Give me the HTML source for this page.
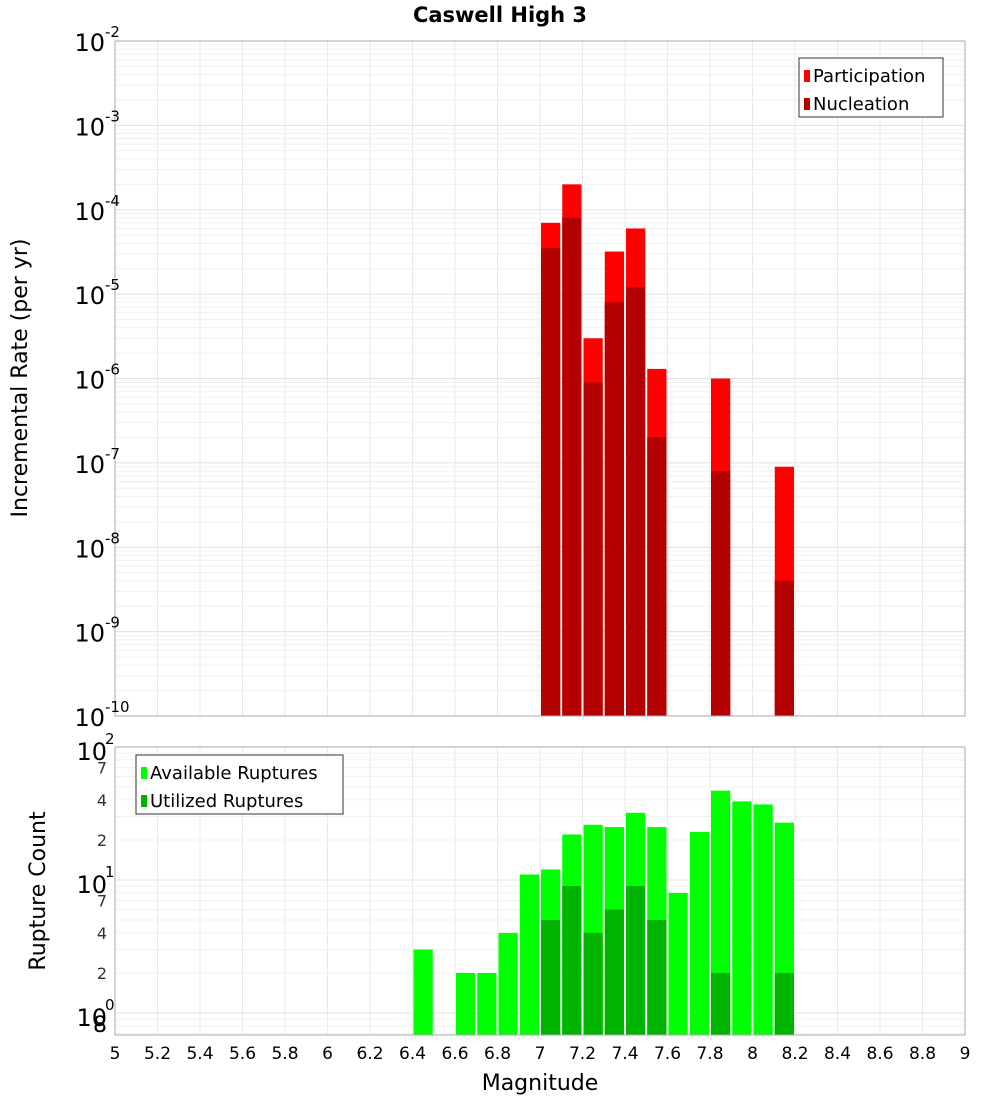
<!DOCTYPE html>
<html><head><meta charset="utf-8"><style>body{margin:0;background:#fff}svg{display:block;font-family:"DejaVu Sans","Liberation Sans",sans-serif}</style></head>
<body>
<svg id="c" width="1000" height="1100"></svg>
<script>
const bins=[7.05,7.15,7.25,7.35,7.45,7.55,7.85,8.15];
const participation=[7e-5,2e-4,3e-6,3.2e-5,6e-5,1.3e-6,1e-6,9e-8];
const nucleation=[3.5e-5,8e-5,9e-7,8e-6,1.2e-5,2e-7,8e-8,4e-9];
const countBins=[6.45,6.65,6.75,6.85,6.95,7.05,7.15,7.25,7.35,7.45,7.55,7.65,7.75,7.85,7.95,8.05,8.15];
const available=[3,2,2,4,11,12,22,26,25,32,25,8,23,47,39,37,27];
const utilBins=[7.05,7.15,7.25,7.35,7.45,7.55,7.85,8.15];
const utilized=[5,9,4,6,9,5,2,2];
const xTicks=[5,5.2,5.4,5.6,5.8,6,6.2,6.4,6.6,6.8,7,7.2,7.4,7.6,7.8,8,8.2,8.4,8.6,8.8,9];
const topDecades=[-10,-9,-8,-7,-6,-5,-4,-3,-2];
const botMinor=[{v:70,t:"7"},{v:40,t:"4"},{v:20,t:"2"},{v:7,t:"7"},{v:4,t:"4"},{v:2,t:"2"},{v:0.8,t:"8"}];

const svg=document.getElementById('c');const NS='http://www.w3.org/2000/svg';
function mk(tag,at,name,parent){const e=document.createElementNS(NS,tag);for(const k in at)e.setAttribute(k,at[k]);


(parent||svg).appendChild(e);return e;}
const L=115,R=965;
const X=v=>L+(v-5)/4*(R-L);
const T0=41,T1=716;const YT=v=>T1-(Math.log10(v)+10)/8*(T1-T0);
const B0=747,B1=1035;const DEC=133;const YB=v=>B0+(2-Math.log10(v))*DEC;

// backgrounds
mk('rect',{x:L,y:T0,width:R-L,height:T1-T0,fill:'#fff'},'top-plot-area');
mk('rect',{x:L,y:B0,width:R-L,height:B1-B0,fill:'#fff'},'bottom-plot-area');
// grid
xTicks.forEach(t=>{mk('line',{x1:X(t),x2:X(t),y1:T0,y2:T1,stroke:'#e8e8e8'},'x-grid-top');mk('line',{x1:X(t),x2:X(t),y1:B0,y2:B1,stroke:'#e8e8e8'},'x-grid-bottom');});
for(let d=-10;d<-2;d++)for(let m=1;m<10;m++){const y=YT(m*Math.pow(10,d));mk('line',{x1:L,x2:R,y1:y,y2:y,stroke:m==1?'#e0e0e0':'#f0f0f0'},'y-grid-top');}
for(let d=-1;d<2;d++)for(let m=1;m<10;m++){const v=m*Math.pow(10,d);const y=YB(v);if(y>B1||y<B0)continue;mk('line',{x1:L,x2:R,y1:y,y2:y,stroke:m==1?'#e0e0e0':'#f0f0f0'},'y-grid-bottom');}
// top bars
const bw=(X(5.1)-X(5))-2;
bins.forEach((b,i)=>{const x=X(b)-bw/2;
mk('rect',{x:x,y:YT(participation[i]),width:bw,height:T1-YT(participation[i]),fill:'#ff0000'},'participation-bar');
mk('rect',{x:x,y:YT(nucleation[i]),width:bw,height:T1-YT(nucleation[i]),fill:'#b30000'},'nucleation-bar');});
countBins.forEach((b,i)=>{const y=YB(available[i]);mk('rect',{x:X(b)-bw/2,y:y,width:bw,height:B1-y,fill:'#00ff00'},'available-bar');});
utilBins.forEach((b,i)=>{const y=YB(utilized[i]);mk('rect',{x:X(b)-bw/2,y:y,width:bw,height:B1-y,fill:'#00b300'},'utilized-bar');});
// frames
mk('rect',{x:L,y:T0,width:R-L,height:T1-T0,fill:'none',stroke:'#aaa'},'top-frame');
mk('rect',{x:L,y:B0,width:R-L,height:B1-B0,fill:'none',stroke:'#aaa'},'bottom-frame');
// title
const tt=mk('text',{x:500,y:22,'text-anchor':'middle','font-size':21,'font-weight':'bold'},'chart-title');tt.textContent='Caswell High 3';
// top y labels
topDecades.forEach(d=>{const y=YT(Math.pow(10,d));const t=mk('text',{x:105,y:y+10,'text-anchor':'end','font-size':24},'y-tick-top');t.textContent='10';
const s=mk('text',{x:105,y:y-4,'font-size':15},'y-tick-exp');s.textContent=String(d);});
// bottom y labels
[[2,'2'],[1,'1'],[0,'0']].forEach(([d,e])=>{const y=YB(Math.pow(10,d));const t=mk('text',{x:107,y:y+13,'text-anchor':'end','font-size':24},'y-tick-bottom');t.textContent='10';
const s=mk('text',{x:105,y:y-3,'font-size':15},'y-tick-exp');s.textContent=e;});
botMinor.forEach(o=>{const y=YB(o.v);const t=mk('text',{x:107,y:y+6,'text-anchor':'end','font-size':o.v<1?22:16,fill:o.v<1?'#000':'#333'},'y-minor-tick');t.textContent=o.t;});
// x labels
xTicks.forEach(t=>{const e=mk('text',{x:X(t),y:1059,'text-anchor':'middle','font-size':17},'x-tick');e.textContent=String(t);});
const xl=mk('text',{x:540,y:1090,'text-anchor':'middle','font-size':22},'x-axis-title');xl.textContent='Magnitude';
const y1=mk('text',{x:27,y:378,'text-anchor':'middle','font-size':22,transform:'rotate(-90 27 378)'},'y-axis-title-top');y1.textContent='Incremental Rate (per yr)';
const y2=mk('text',{x:45,y:891,'text-anchor':'middle','font-size':22,transform:'rotate(-90 45 891)'},'y-axis-title-bottom');y2.textContent='Rupture Count';
// legends
function legend(x,y,w,items,name){const g=mk('g',{},name);mk('rect',{x:x,y:y,width:w,height:59,fill:'#fff',stroke:'#333'},'legend-box',g);
items.forEach((it,i)=>{mk('rect',{x:x+5,y:y+12+i*28,width:6,height:12,fill:it[1]},'legend-swatch',g);const t=mk('text',{x:x+14,y:y+24+i*28,'font-size':18},'legend-label',g);t.textContent=it[0];});}
legend(799,58,144,[['Participation','#ff0000'],['Nucleation','#b30000']],'top-legend');
legend(136,755,207,[['Available Ruptures','#00ff00'],['Utilized Ruptures','#00b300']],'bottom-legend');
</script>
</body></html>
